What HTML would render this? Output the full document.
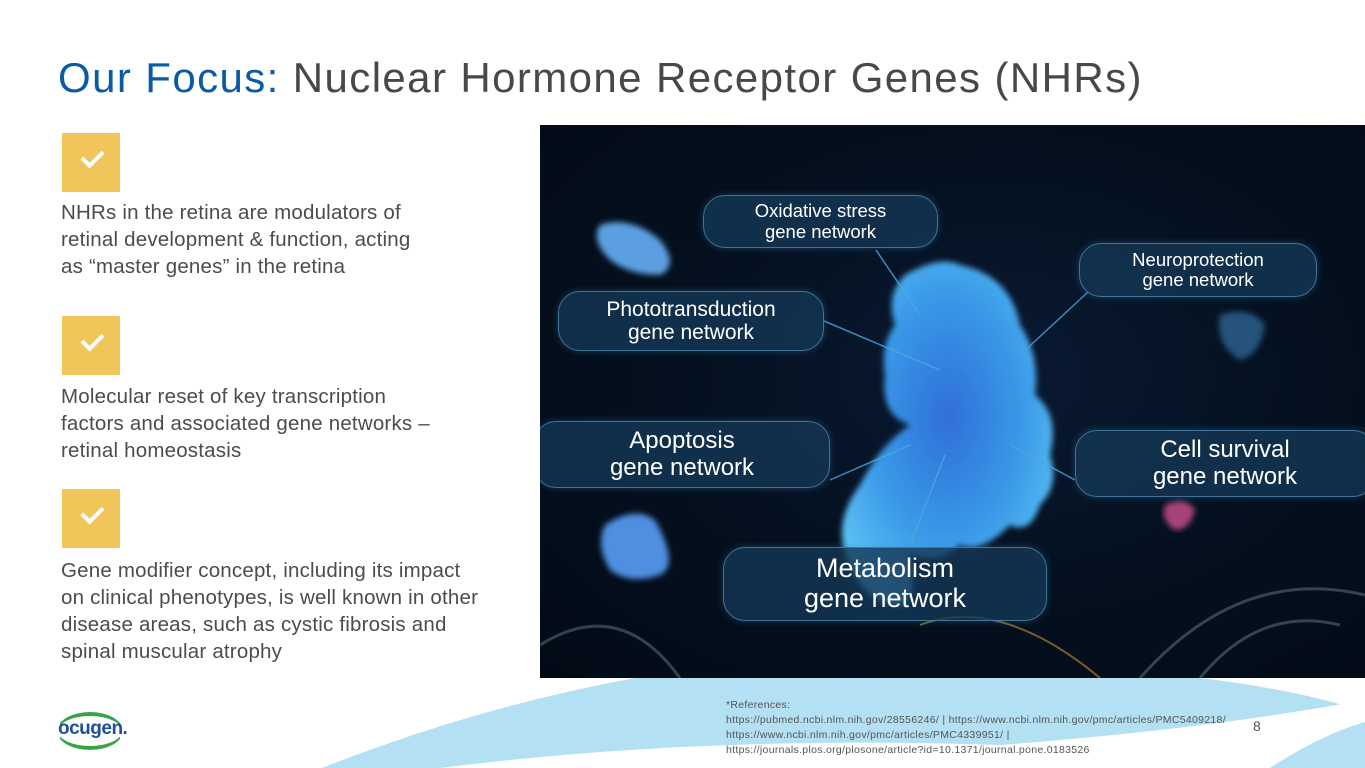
<!DOCTYPE html>
<html><head><meta charset="utf-8"><style>
*{margin:0;padding:0;box-sizing:border-box}
body{width:1365px;height:768px;position:relative;overflow:hidden;background:#fff;font-family:"Liberation Sans",sans-serif}
.t{position:absolute;left:58px;top:54px;font-size:42px;color:#4a4649;letter-spacing:1.4px;white-space:nowrap}
.t b{font-weight:normal;color:#0a5aa5}
.ck{position:absolute;left:62px;width:58px;height:59px;background:#f0c55a}
.ck:after{content:"";position:absolute;left:20px;top:17px;width:17px;height:9px;border-left:4px solid #fff;border-bottom:4px solid #fff;transform:rotate(-45deg)}
.p{position:absolute;left:61px;font-size:20.5px;line-height:27px;color:#4e4a4d;white-space:nowrap;letter-spacing:0.2px}
.img{position:absolute;left:540px;top:125px;width:825px;height:553px;background:radial-gradient(ellipse at 55% 45%,#0a1a33 0%,#04101f 50%,#030a16 100%);overflow:hidden}
.pill{position:absolute;border:1.5px solid #3f7597;border-radius:22px;background:rgba(20,55,85,.8);color:#fff;text-align:center;display:flex;align-items:center;justify-content:center;line-height:1.1;box-shadow:0 0 8px rgba(60,140,200,.35)}
.ref{position:absolute;left:726px;top:698px;font-size:10.5px;line-height:15px;color:#555;white-space:nowrap;letter-spacing:0.3px}
</style></head><body>
<svg style="position:absolute;left:0;top:0" width="1365" height="768">
<path d="M322 768 Q520 690 720 665 L1365 665 L1365 768 Z" fill="#b3e0f2"/>
<path d="M440 768 Q700 735 1000 745 Q1200 730 1365 700 L1365 768 Z" fill="#fff"/>
<path d="M1200 678 Q1300 690 1365 712 L1365 678 Z" fill="#fff"/>
<path d="M1270 768 Q1320 735 1365 722 L1365 768 Z" fill="#b3e0f2"/>
</svg>
<div class="t"><b>Our Focus:</b> Nuclear Hormone Receptor Genes (NHRs)</div>
<div class="ck" style="top:133px"></div>
<div class="p" style="top:199px">NHRs in the retina are modulators of<br>retinal development &amp; function, acting<br>as “master genes” in the retina</div>
<div class="ck" style="top:316px"></div>
<div class="p" style="top:383px">Molecular reset of key transcription<br>factors and associated gene networks –<br>retinal homeostasis</div>
<div class="ck" style="top:489px"></div>
<div class="p" style="top:557px">Gene modifier concept, including its impact<br>on clinical phenotypes, is well known in other<br>disease areas, such as cystic fibrosis and<br>spinal muscular atrophy</div>
<div class="img">
<svg width="825" height="553" style="position:absolute;left:0;top:0">
<defs><radialGradient id="g" cx="50%" cy="45%" r="60%"><stop offset="0" stop-color="#2f6fd8"/><stop offset=".6" stop-color="#3a9ae8"/><stop offset="1" stop-color="#5cc0f5"/></radialGradient>
<filter id="b"><feGaussianBlur stdDeviation="3"/></filter></defs>
<g opacity=".35" stroke="#8aa" fill="none" stroke-width="3"><path d="M0 520 Q80 470 140 553"/><path d="M600 553 Q700 440 825 470"/><path d="M660 553 Q720 480 800 500"/></g>
<path d="M380 500 Q460 470 560 553" stroke="#c89030" stroke-width="2" fill="none" opacity=".6"/>
<path d="M365 150 Q400 130 420 140 Q470 150 480 200 Q500 230 495 270 Q520 290 510 330 Q520 360 500 380 Q490 410 470 400 Q440 430 420 420 Q400 440 370 430 Q380 490 350 480 Q320 470 310 440 Q290 400 320 360 Q340 320 370 300 Q340 290 345 250 Q340 220 355 200 Q345 170 365 150Z" fill="url(#g)" filter="url(#b)"/>
<path d="M60 100 Q90 90 120 115 Q140 140 120 150 Q90 150 70 135 Q50 115 60 100Z" fill="#5b9fe0" filter="url(#b)"/>
<path d="M65 400 Q95 380 115 395 Q140 440 120 450 Q90 460 70 445 Q55 420 65 400Z" fill="#4f8ee0" filter="url(#b)"/>
<path d="M680 190 Q710 180 725 200 Q720 230 700 235 Q675 220 680 190Z" fill="#3a7fb8" opacity=".6" filter="url(#b)"/>
<path d="M625 380 Q645 370 655 385 Q650 405 635 405 Q620 395 625 380Z" fill="#d05090" opacity=".8" filter="url(#b)"/>
<g stroke="#4aa8e0" stroke-width="1.5" opacity=".8"><line x1="336" y1="125" x2="380" y2="190"/><line x1="284" y1="196" x2="400" y2="245"/><line x1="548" y1="167" x2="480" y2="230"/><line x1="290" y1="355" x2="370" y2="320"/><line x1="535" y1="355" x2="470" y2="320"/><line x1="370" y1="420" x2="405" y2="330"/></g>
</svg>
<div class="pill" style="left:163px;top:70px;width:235px;height:53px;font-size:18.5px">Oxidative stress<br>gene network</div>
<div class="pill" style="left:539px;top:118px;width:238px;height:54px;font-size:18.5px">Neuroprotection<br>gene network</div>
<div class="pill" style="left:18px;top:166px;width:266px;height:60px;font-size:21px">Phototransduction<br>gene network</div>
<div class="pill" style="left:-6px;top:296px;width:296px;height:67px;font-size:24px">Apoptosis<br>gene network</div>
<div class="pill" style="left:535px;top:305px;width:300px;height:67px;font-size:24px">Cell survival<br>gene network</div>
<div class="pill" style="left:183px;top:422px;width:324px;height:74px;font-size:27px">Metabolism<br>gene network</div>
</div>
<div style="position:absolute;left:57px;top:712px;width:66px;height:38px;border-radius:50%;border-top:4px solid #3aa34a;border-bottom:4px solid #3aa34a;border-left:1px solid transparent;border-right:1px solid transparent"></div>
<div style="position:absolute;left:58px;top:718px;font-size:19px;font-weight:bold;color:#1f4f9a;letter-spacing:-0.5px">ocugen.</div>
<div class="ref">*References:<br>https://pubmed.ncbi.nlm.nih.gov/28556246/ | https://www.ncbi.nlm.nih.gov/pmc/articles/PMC5409218/<br>https://www.ncbi.nlm.nih.gov/pmc/articles/PMC4339951/ |<br>https://journals.plos.org/plosone/article?id=10.1371/journal.pone.0183526</div>
<div style="position:absolute;left:1253px;top:718px;font-size:14px;color:#555">8</div>
</body></html>
